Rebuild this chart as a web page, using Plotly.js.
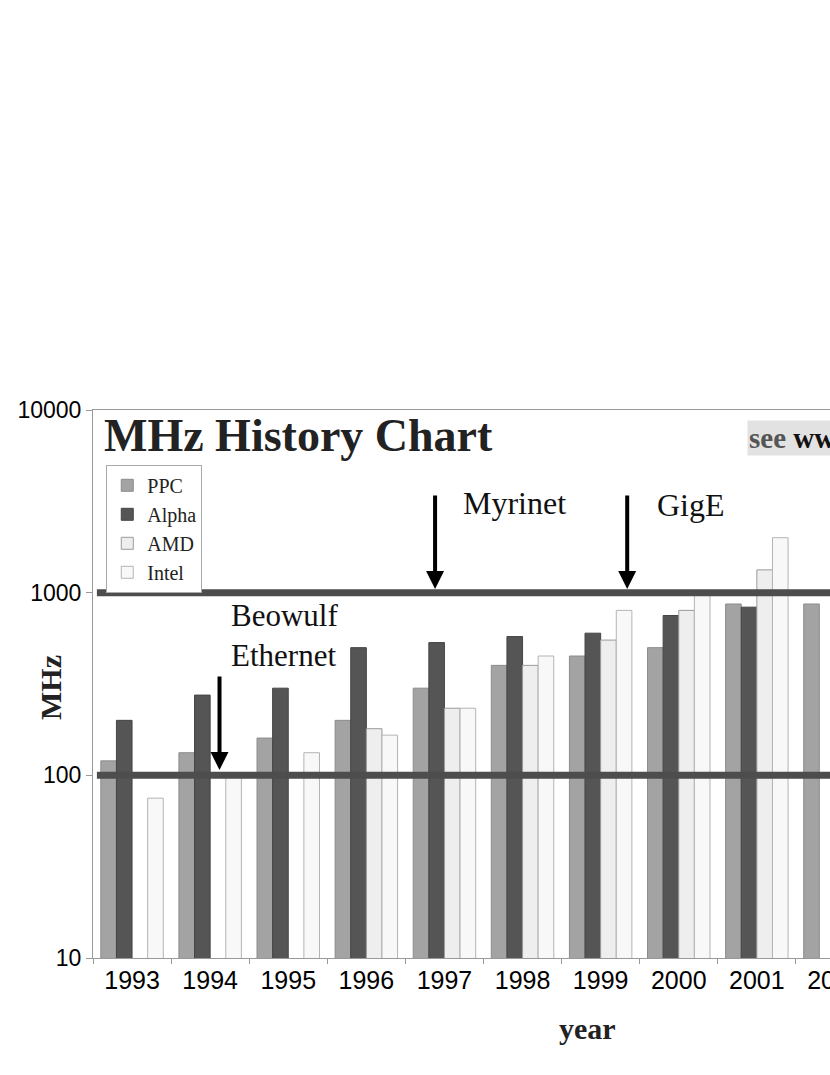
<!DOCTYPE html>
<html>
<head>
<meta charset="utf-8">
<script src="https://cdn.plot.ly/plotly-3.0.1.min.js"></script>
<style>
  html, body { margin: 0; padding: 0; background: #fff; overflow: hidden; }
  #chart { width: 1000px; height: 1075px; }
</style>
</head>
<body>
<div id="chart"></div>
<script>
// clock speed per year, MHz
var years = ['1993', '1994', '1995', '1996', '1997', '1998', '1999', '2000', '2001', '2002'];
var ppc   = [120, 133, 160, 200, 300, 400, 450, 500, 867, 867];
var alpha = [200, 275, 300, 500, 533, 575, 600, 750, 833, null];
var amd   = [null, null, null, 180, 233, 400, 550, 800, 1333, null];
var intel = [75, 100, 133, 166, 233, 450, 800, 1000, 2000, null];

var seriesNames  = ['PPC', 'Alpha', 'AMD', 'Intel'];
var seriesFill   = ['#a3a3a3', '#555555', '#eeeeee', '#f8f8f8'];
var seriesBorder = ['#8c8c8c', '#454545', '#9a9a9a', '#b4b4b4'];

// network milestones: label, position on the year axis, arrow tip (MHz)
var eventLabels = ['Beowulf<br>Ethernet', 'Myrinet', 'GigE'];
var eventX      = [1.12, 3.88, 6.34];
var eventTip    = [107, 1047, 1047];

// thick reference bands
var bandLevels = [100, 1000];

var serif = 'Liberation Serif, Times New Roman, serif';
var sans  = 'Liberation Sans, Arial, sans-serif';

var values = [ppc, alpha, amd, intel];
var data = [];
for (var i = 0; i < values.length; i++) {
    data.push({
        name: seriesNames[i],
        x: years,
        y: values[i],
        type: 'bar',
        marker: {color: seriesFill[i], line: {color: seriesBorder[i], width: 1}}
    });
}

var shapes = bandLevels.map(function(v) {
    return {type: 'line', xref: 'paper', yref: 'y', x0: 0.005, x1: 1, y0: v, y1: v,
            line: {color: '#4d4d4d', width: 7}, layer: 'above'};
});

var annotations = [];
// arrows
for (var j = 0; j < eventX.length; j++) {
    annotations.push({
        xref: 'x', yref: 'y', x: eventX[j], y: Math.log10(eventTip[j]),
        text: '', showarrow: true, ax: 0, ay: -95,
        arrowhead: 2, arrowsize: 0.9, arrowwidth: 4, arrowcolor: '#000'
    });
}
// labels next to the arrows
annotations.push({xref: 'paper', yref: 'paper', x: 0.174, y: 0.588, xanchor: 'left', yanchor: 'middle',
    text: eventLabels[0], showarrow: false, align: 'left', font: {family: serif, size: 31, color: '#111'}});
annotations.push({xref: 'paper', yref: 'paper', x: 0.471, y: 0.830, xanchor: 'left', yanchor: 'middle',
    text: eventLabels[1], showarrow: false, font: {family: serif, size: 32, color: '#111'}});
annotations.push({xref: 'paper', yref: 'paper', x: 0.7195, y: 0.826, xanchor: 'left', yanchor: 'middle',
    text: eventLabels[2], showarrow: false, font: {family: serif, size: 32, color: '#111'}});
// source note, top right
annotations.push({xref: 'paper', yref: 'paper', x: 0.838, y: 0.949, xanchor: 'left', yanchor: 'middle',
    text: '<b><span style="color:#555">see</span> www.spec.org</b>', showarrow: false,
    bgcolor: '#e2e2e2', borderpad: 1, font: {family: serif, size: 29, color: '#111'}});
// axis titles
annotations.push({xref: 'paper', yref: 'paper', x: (587 - 93) / 781, y: -0.128, xanchor: 'center', yanchor: 'middle',
    text: '<b>year</b>', showarrow: false, font: {family: serif, size: 30, color: '#222'}});
annotations.push({xref: 'paper', yref: 'paper', x: (50 - 93) / 781, y: (958 - 688) / 548, xanchor: 'center', yanchor: 'middle',
    text: '<b>MHz</b>', textangle: -90, showarrow: false, font: {family: serif, size: 30, color: '#222'}});

var layout = {
    width: 1000,
    height: 1075,
    margin: {l: 93, r: 126, t: 410, b: 117},
    paper_bgcolor: '#fff',
    plot_bgcolor: '#fff',
    title: {
        text: '<b>MHz History Chart</b>',
        font: {family: serif, size: 46, color: '#222'},
        xref: 'container', yref: 'container',
        x: 0.104, xanchor: 'left', y: 1 - 435 / 1075, yanchor: 'middle'
    },
    barmode: 'group',
    bargap: 0.2,
    bargroupgap: 0,
    showlegend: true,
    legend: {
        x: 0.017, y: 0.9, xanchor: 'left', yanchor: 'top',
        bgcolor: '#fff', bordercolor: '#aaa', borderwidth: 1,
        font: {family: serif, size: 20, color: '#222'},
        traceorder: 'normal'
    },
    xaxis: {
        type: 'category',
        range: [-0.5, 9.5],
        showline: true, linecolor: '#999', linewidth: 1, mirror: true,
        ticks: 'outside', tickson: 'boundaries', ticklen: 5, tickcolor: '#999',
        showgrid: false, zeroline: false,
        tickfont: {family: sans, size: 25, color: '#000'}
    },
    yaxis: {
        type: 'log',
        range: [1, 4],
        tickvals: [10, 100, 1000, 10000],
        ticktext: ['10', '100', '1000', '10000'],
        showline: true, linecolor: '#999', linewidth: 1,
        ticks: 'outside', ticklen: 6, tickcolor: '#999',
        showgrid: false, zeroline: false,
        tickfont: {family: sans, size: 23, color: '#000'}
    },
    shapes: shapes,
    annotations: annotations
};

Plotly.newPlot('chart', data, layout, {staticPlot: true});
</script>
</body>
</html>
